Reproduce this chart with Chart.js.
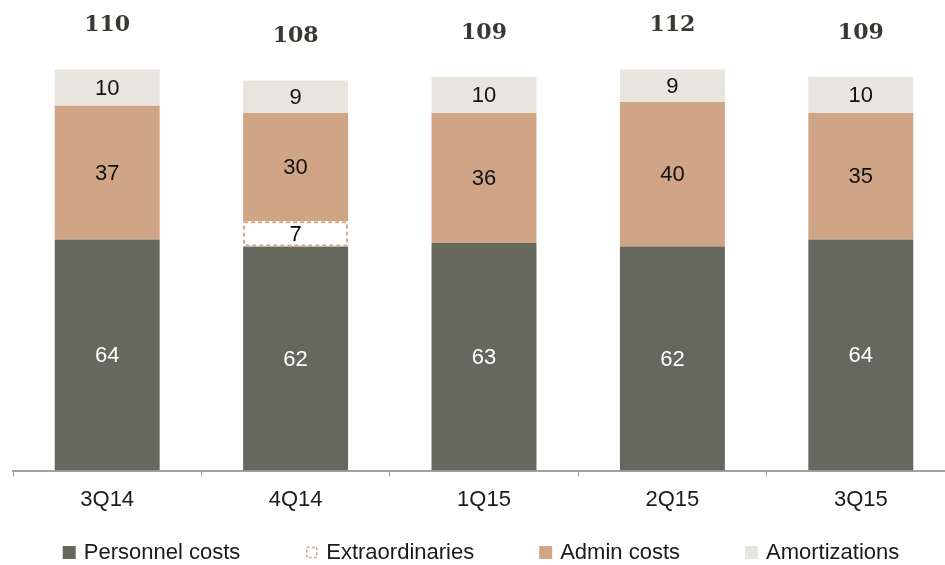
<!DOCTYPE html>
<html>
<head>
<meta charset="utf-8">
<script src="https://cdn.jsdelivr.net/npm/chart.js@4.4.0/dist/chart.umd.min.js"></script>
<style>
  html, body { margin: 0; padding: 0; background: #fff; overflow: hidden; }
  #wrap { width: 960px; height: 565px; }
</style>
</head>
<body>
<div id="wrap"><canvas id="costChart" width="960" height="565"></canvas></div>
<script>
// values
var quarters = ['3Q14', '4Q14', '1Q15', '2Q15', '3Q15'];
var personnel = [64, 62, 63, 62, 64];
var extraordinaries = [0, 7, 0, 0, 0];
var admin = [37, 30, 36, 40, 35];
var amortizations = [10, 9, 10, 9, 10];
var totals = [110, 108, 109, 112, 109];

var sansFont = '"Liberation Sans", Arial, sans-serif';
var labelFont = '22px ' + sansFont;

// numbers inside each segment + dashed frame of the extraordinaries block
var segmentLabels = {
    id: 'segmentLabels',
    afterDatasetsDraw: function(chart) {
        var ctx = chart.ctx;
        ctx.save();
        // dashed outline for extraordinaries
        var extraMeta = chart.getDatasetMeta(1);
        extraMeta.data.forEach(function(bar, i) {
            if (!extraordinaries[i]) return;
            var p = bar.getProps(['x', 'y', 'base', 'width'], true);
            ctx.setLineDash([4, 3]);
            ctx.lineWidth = 2;
            ctx.strokeStyle = '#d2a98a';
            ctx.strokeRect(p.x - p.width / 2 + 1, p.y + 1, p.width - 2, p.base - p.y - 2);
        });
        ctx.setLineDash([]);

        ctx.font = labelFont;
        ctx.textAlign = 'center';
        ctx.textBaseline = 'middle';
        chart.data.datasets.forEach(function(ds, di) {
            var meta = chart.getDatasetMeta(di);
            meta.data.forEach(function(bar, i) {
                var v = ds.data[i];
                if (!v) return;
                var p = bar.getProps(['x', 'y', 'base'], true);
                ctx.fillStyle = ds.labelColor;
                ctx.fillText(String(v), p.x, (p.y + p.base) / 2 + 1);
            });
        });

        // totals above each stack
        var topMeta = chart.getDatasetMeta(chart.data.datasets.length - 1);
        ctx.font = 'bold 22px "DejaVu Serif", Georgia, serif';
        ctx.fillStyle = '#3b3833';
        topMeta.data.forEach(function(bar, i) {
            var p = bar.getProps(['x', 'y'], true);
            ctx.fillText(String(totals[i]), p.x, p.y - 44);
        });
        ctx.restore();
    }
};

// legend row at the bottom, spaced like the original
var bottomLegend = {
    id: 'bottomLegend',
    afterDraw: function(chart) {
        var ctx = chart.ctx;
        var gap = 65, box = 13, textGap = 8, y = 552;
        ctx.save();
        ctx.font = labelFont;
        ctx.textBaseline = 'middle';
        ctx.textAlign = 'left';
        var ds = chart.data.datasets;
        var widths = ds.map(function(d) { return box + textGap + ctx.measureText(d.label).width; });
        var total = widths.reduce(function(a, b) { return a + b; }, 0) + gap * (ds.length - 1);
        var x = 481 - total / 2;
        ds.forEach(function(d, i) {
            if (d.legendDash.length) {
                ctx.fillStyle = '#ffffff';
                ctx.fillRect(x + 1, y - 5, 11, 11);
                ctx.setLineDash(d.legendDash);
                ctx.lineWidth = 1.5;
                ctx.strokeStyle = d.legendStroke;
                ctx.strokeRect(x + 1.5, y - 4.5, 10, 10);
                ctx.setLineDash([]);
            } else {
                ctx.fillStyle = d.backgroundColor;
                ctx.fillRect(x, y - 6, box, box);
            }
            ctx.fillStyle = '#1a1a1a';
            ctx.fillText(d.label, x + box + textGap, y + 1);
            x += widths[i] + gap;
        });
        ctx.restore();
    }
};

var ctx = document.getElementById('costChart');
var costChart = new Chart(ctx, {
    type: 'bar',
    data: {
        labels: quarters,
        datasets: [{
            label: 'Personnel costs',
            data: personnel,
            backgroundColor: '#67685d',
            labelColor: '#ffffff',
            legendStroke: '#67685d', legendDash: []
        }, {
            label: 'Extraordinaries',
            data: extraordinaries,
            backgroundColor: '#ffffff',
            labelColor: '#000000',
            legendStroke: '#d2a98a', legendDash: [3, 2]
        }, {
            label: 'Admin costs',
            data: admin,
            backgroundColor: '#cfa586',
            labelColor: '#111111',
            legendStroke: '#cfa586', legendDash: []
        }, {
            label: 'Amortizations',
            data: amortizations,
            backgroundColor: '#e8e5de',
            labelColor: '#111111',
            legendStroke: '#e8e5de', legendDash: []
        }]
    },
    options: {
        responsive: false,
        animation: false,
        layout: { padding: { left: 13, right: 5, top: 19, bottom: 42 } },
        datasets: {
            bar: { barPercentage: 0.557, categoryPercentage: 1, borderWidth: 0 }
        },
        scales: {
            x: {
                stacked: true,
                border: { color: '#a0a0a0', width: 2 },
                grid: { offset: true, drawOnChartArea: false, tickLength: 6, color: '#a0a0a0', lineWidth: 1 },
                ticks: { padding: 10, color: '#1a1a1a', font: { family: sansFont, size: 22 } }
            },
            y: {
                stacked: true,
                display: false,
                min: 0,
                max: 125
            }
        },
        plugins: {
            tooltip: { enabled: false },
            legend: { display: false }
        }
    },
    plugins: [segmentLabels, bottomLegend]
});
</script>
</body>
</html>
